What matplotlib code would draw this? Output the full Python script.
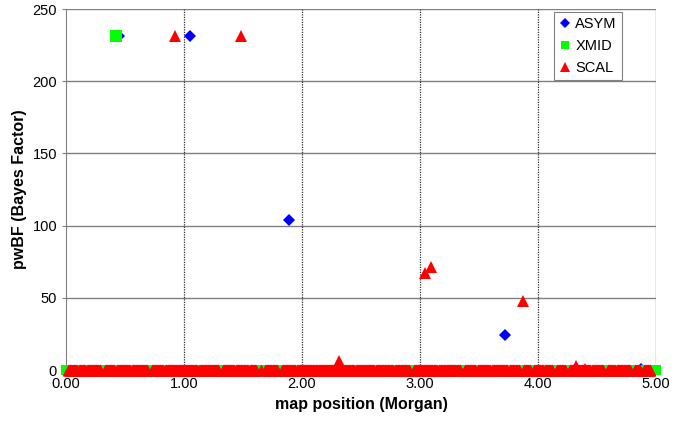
import numpy as np
import matplotlib
matplotlib.use('Agg')
import matplotlib.pyplot as plt

plt.rcParams['font.family'] = ['Liberation Sans', 'DejaVu Sans']

# peaks (map position in Morgan, pwBF)
asym_x = [0.45, 1.05, 1.89, 3.72, 4.87]
asym_y = [231, 231, 104, 24, 1]
xmid_x = [0.42]
xmid_y = [231]
scal_x = [0.92, 1.48, 3.04, 3.09, 3.87, 2.31, 4.32, 4.40]
scal_y = [231, 231, 67, 71, 48, 6, 3, 1]

# dense genome scan, pwBF ~ 0 everywhere else
scan_pos = np.round(np.arange(0, 5.0001, 0.005), 3)
# spots where the red band has notches (green shows through)
scal_gaps = [0.0, 0.31, 0.71, 1.31, 1.63, 1.67, 1.81, 2.93, 3.36,
             3.86, 3.95, 4.14, 4.25, 4.57, 4.80, 4.88, 4.97, 5.0]
scal_notches = [0.10, 0.17, 0.42, 0.55, 0.83, 1.12, 1.43, 1.55, 1.95,
                2.45, 2.62, 2.78, 3.15, 3.48, 3.60, 3.75, 4.05, 4.45, 4.66]

scal_base = [p for p in scan_pos
             if min(abs(p - g) for g in scal_gaps) > 0.016
             and min(abs(p - g) for g in scal_notches) > 0.006]

fig = plt.figure(figsize=(6.85, 4.30), dpi=100)
ax = fig.add_axes([0.0964, 0.1395, 0.8613, 0.8395])

blue = '#0000ff'
green = '#00ff00'
red = '#ff0000'

ax.plot(asym_x, asym_y, 'D', color=blue, ms=6.5, mew=0, clip_on=False,
        zorder=3, label='ASYM')
ax.scatter(scan_pos, np.zeros(len(scan_pos)), marker='s', s=7.5 ** 2,
           color=green, lw=0, clip_on=False, zorder=3)
ax.plot(xmid_x, xmid_y, 's', color=green, ms=8.5, mew=0, clip_on=False,
        zorder=4, label='XMID')
ax.scatter(scal_base, np.zeros(len(scal_base)), marker='^', s=8.5 ** 2,
           color=red, lw=0, clip_on=False, zorder=5)
ax.plot(scal_x, scal_y, '^', color=red, ms=9, mew=0, clip_on=False,
        zorder=5, label='SCAL')

ax.set_xlim(0, 5)
ax.set_ylim(0, 250)
ax.set_xticks(range(6))
ax.set_xticklabels(['%.2f' % v for v in range(6)])
ax.set_yticks(range(0, 251, 50))
ax.tick_params(axis='both', labelsize=10.5, length=3, color='#808080',
               width=0.8)
ax.tick_params(axis='x', length=0, pad=5)

for y in range(50, 251, 50):
    ax.axhline(y, color='#808080', lw=1.0, zorder=1)
for x in range(1, 5):
    ax.axvline(x, color='#303030', lw=0.9, ls=(0, (1, 1)), zorder=1)
ax.axvline(5, color='#909090', lw=1.0, zorder=1)

for s in ['top', 'right', 'bottom']:
    ax.spines[s].set_visible(False)
ax.spines['left'].set_color('#808080')

ax.set_xlabel('map position (Morgan)', fontsize=11.5, fontweight='bold',
              labelpad=4)
ax.set_ylabel('pwBF (Bayes Factor)', fontsize=11.5, fontweight='bold',
              labelpad=4)

leg = ax.legend(loc='upper right', bbox_to_anchor=(0.942, 0.992),
                borderaxespad=0, fontsize=10.5, handletextpad=0.3,
                handlelength=0.8, markerscale=0.75, borderpad=0.35,
                labelspacing=0.55, fancybox=False, framealpha=1,
                edgecolor='#808080')
leg.get_frame().set_linewidth(0.8)

fig.savefig('out.png', dpi=100)
